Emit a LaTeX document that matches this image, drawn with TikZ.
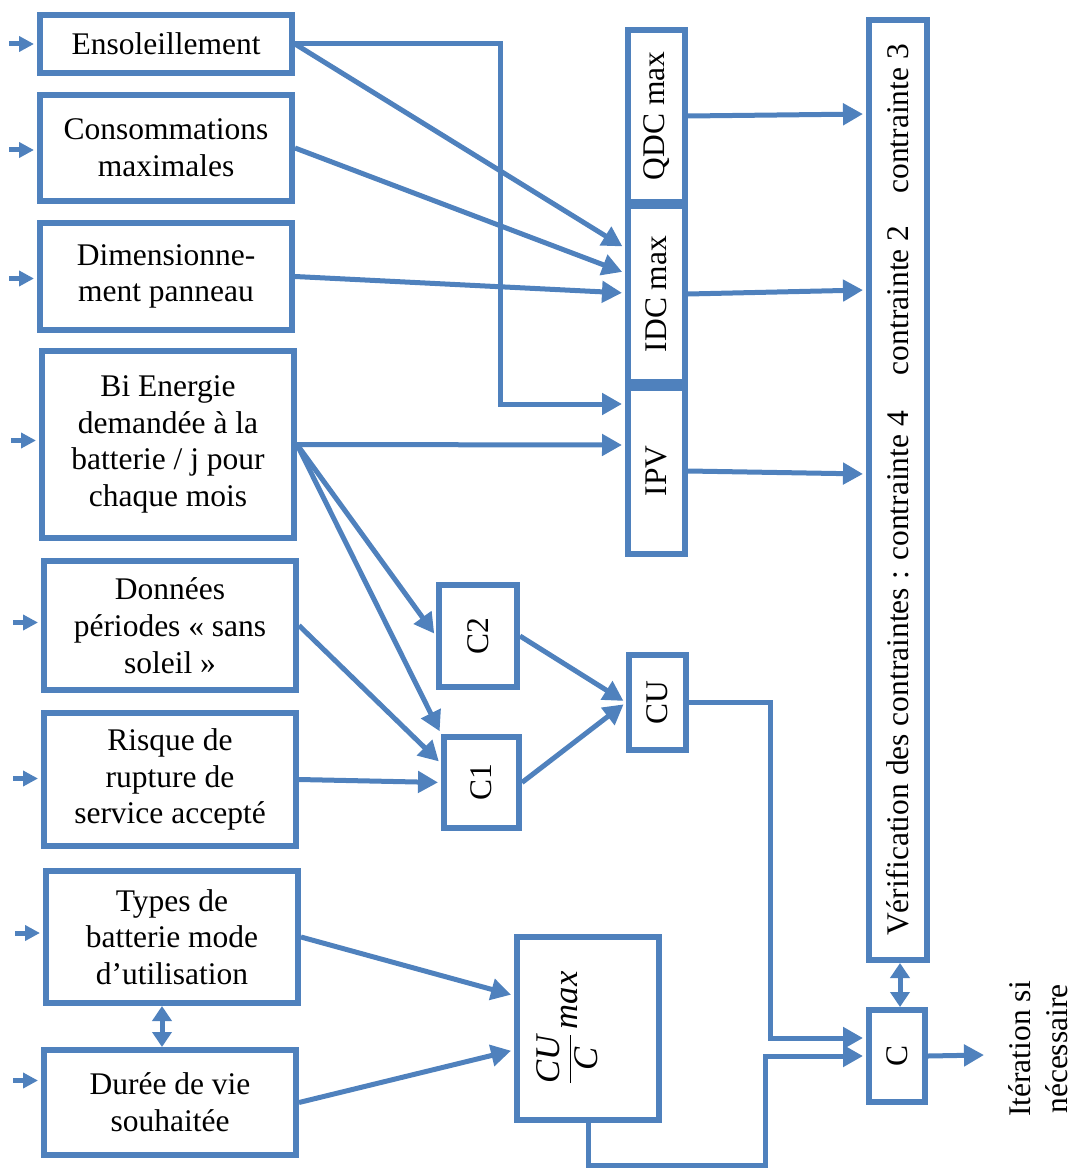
\documentclass[tikz,border=0pt]{standalone}
\usepackage{amsmath}
\usepackage{fontspec}
\setmainfont{Liberation Serif}
\usetikzlibrary{arrows.meta,calc}
\definecolor{obl}{HTML}{4F81BD}
\begin{document}
\begin{tikzpicture}[x=1pt,y=-1pt,
  txt/.style={font=\fontsize{31.5pt}{36.7pt}\selectfont, text=black},
  box/.style={txt, draw=obl, line width=6pt, rectangle, inner sep=0pt, align=center},
  con/.style={draw=obl, line width=5pt},
  arr/.style={con, -{Triangle[length=20pt,width=21pt]}, shorten >=3pt},
  inarr/.style={con, -{Triangle[length=15pt,width=15pt]}, shorten >=3pt},
  dbl/.style={con, {Triangle[length=15pt,width=19pt]}-{Triangle[length=15pt,width=19pt]}}
]
\useasboundingbox (0,0) rectangle (1078,1169);
% left column
\node[box, minimum width=252pt, minimum height=58pt] (ens) at (166,44) {Ensoleillement};
\node[box, minimum width=252pt, minimum height=106pt] (cons) at (166,148) {Consommations\\maximales};
\node[box, minimum width=252pt, minimum height=107pt] (dim) at (166,276.5) {Dimensionne-\\ment panneau};
\node[box, minimum width=252pt, minimum height=187pt] (bi) at (168,444.5) {Bi Energie\\demandée à la\\batterie / j pour\\chaque mois};
\node[box, minimum width=252pt, minimum height=129pt] (don) at (170,625.5) {Données\\périodes « sans\\soleil »};
\node[box, minimum width=252pt, minimum height=133pt] (ris) at (170,779.5) {Risque de\\rupture de\\service accepté};
\node[box, minimum width=252pt, minimum height=132pt] (typ) at (172,937) {Types de\\batterie mode\\d’utilisation};
\node[box, minimum width=252pt, minimum height=105pt] (dur) at (170,1102.5) {Durée de vie\\souhaitée};
% middle
\node[box, minimum width=57pt, minimum height=172pt] (qdc) at (656.5,116) {\rotatebox{90}{QDC max}};
\node[box, minimum width=57pt, minimum height=176pt] (idc) at (656.5,294) {\rotatebox{90}{IDC max}};
\node[box, minimum width=57pt, minimum height=166pt] (ipv) at (656.5,471) {\rotatebox{90}{IPV}};
\node[box, minimum width=78pt, minimum height=102pt] (c2) at (478,636) {\rotatebox{90}{C2}};
\node[box, minimum width=75pt, minimum height=91pt] (c1) at (481.5,782.5) {\rotatebox{90}{C1}};
\node[box, minimum width=57pt, minimum height=95pt] (cu) at (657.5,702.5) {\rotatebox{90}{CU}};
\node[box, minimum width=142pt, minimum height=183pt] (cuc) at (588,1028.5) {};
\node[txt, inner sep=0pt] (cuct) at (567,1028) {\rotatebox{90}{\scalebox{1.1}{$\dfrac{\textit{CU}}{\textit{C}}\,\textit{max}$}}};
% right
\node[box, minimum width=58pt, minimum height=940pt] (ver) at (898,490) {\rotatebox{90}{Vérification des contraintes : contrainte 4\hspace{36pt}contrainte 2\hspace{32pt}contrainte 3}};
\node[box, minimum width=56pt, minimum height=92pt] (c) at (897,1056) {\rotatebox{90}{C}};
\node[txt, align=center, rotate=90] (it) at (1038,1049) {Itération si\\nécessaire};
\coordinate (out) at (984,1055);
% input arrows
\foreach \n/\dy in {ens/0,cons/2,dim/2,bi/-4,don/-3,ris/-1,typ/-4,dur/-22}{
  \draw[inarr] ($(\n.west)+(-28,\dy)$) -- ($(\n.west)+(0,\dy)$);
}
% connectors
\draw[arr] (ens.east) -- (500,44) -- (500,404) -- ($(ipv.west)+(0,-67)$);
\draw[arr] (ens.east) -- ($(idc.west)+(0,-46)$);
\draw[arr] (cons.east) -- ($(idc.west)+(0,-21)$);
\draw[arr] (dim.east) -- ($(idc.west)+(0,-1)$);
\draw[arr] (bi.east) -- ($(ipv.west)+(0,-26)$);
\draw[arr] (bi.east) -- (c2.west);
\draw[arr] (bi.east) -- (c1.north west);
\draw[arr] (don.east) -- ($(c1.west)+(0,-19)$);
\draw[arr] (ris.east) -- (c1.west);
\draw[arr] (c2.east) -- (cu.west);
\draw[arr] (c1.east) -- (cu.west);
\draw[arr] (qdc.east) -- ($(ver.west)+(0,-376)$);
\draw[arr] (idc.east) -- ($(ver.west)+(0,-200)$);
\draw[arr] (ipv.east) -- ($(ver.west)+(0,-16)$);
\draw[arr] (cu.east) -- (770,702.5) -- (770,1038) -- ($(c.west)+(0,-18)$);
\draw[arr] (cuc.south) -- (588,1165) -- (765,1165) -- (765,1056) -- (c.west);
\draw[dbl] ($(ver.south)+(2,0)$) -- ($(c.north)+(3,0)$);
\draw[arr, shorten >=0pt] (c.east) -- (out);
\draw[arr] ($(typ.east)+(0,0)$) -- ($(cuc.west)+(0,-33)$);
\draw[arr] (dur.east) -- ($(cuc.west)+(0,21.5)$);
\draw[dbl] ($(typ.south)+(-10,0)$) -- ($(dur.north)+(-8,0)$);
\end{tikzpicture}
\end{document}
